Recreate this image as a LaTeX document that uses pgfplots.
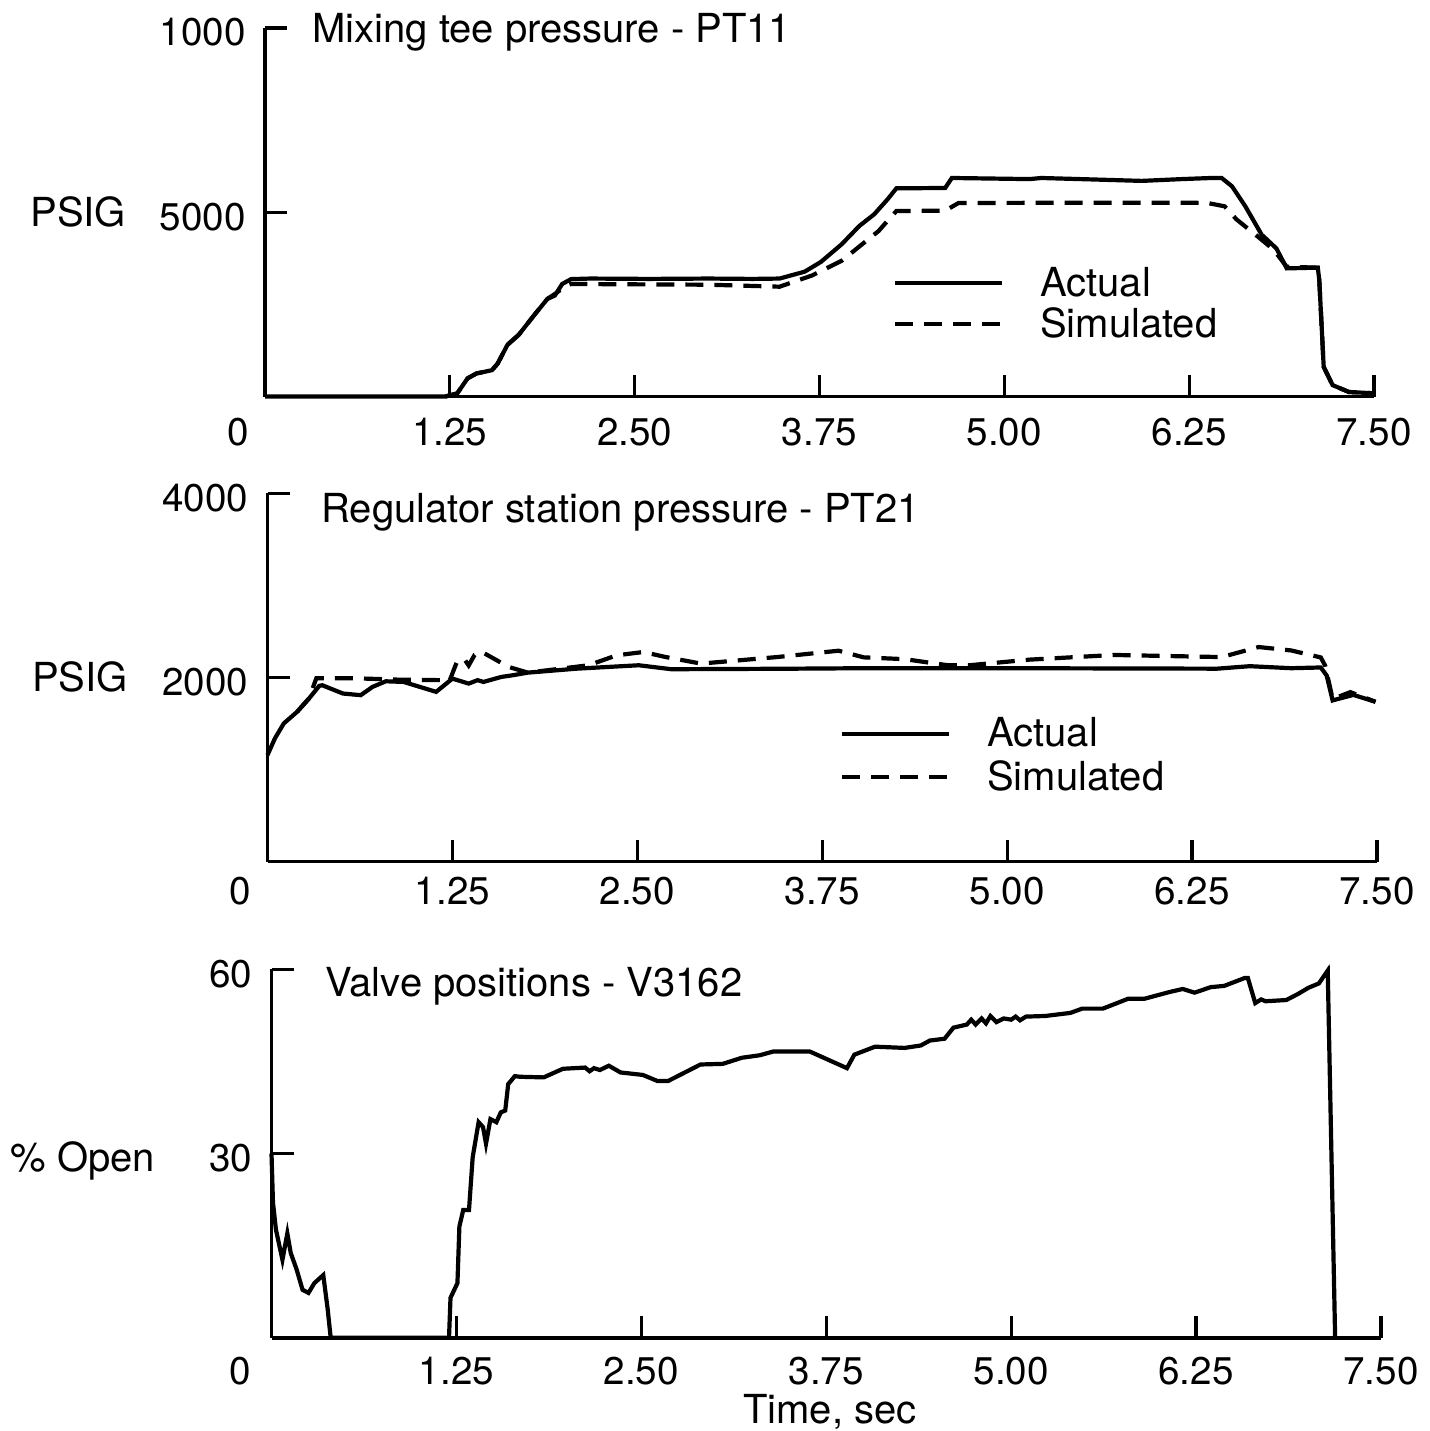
\documentclass[border=0pt]{standalone}
\usepackage{fontspec}
\setmainfont{TeX Gyre Heros}
\usepackage{pgfplots}
\pgfplotsset{compat=1.18}

\newcommand{\TF}{\fontsize{20}{24}\selectfont}
\newcommand{\KF}{\fontsize{19.3}{23}\selectfont}

\pgfplotsset{
  panel/.style={
    scale only axis,
    anchor=south west,
    axis x line*=bottom, axis y line*=left,
    axis line style={line width=1.9pt, -},
    every tick/.style={line width=1.6pt, black},
    major tick length=11pt,
    tick align=inside,
    xmin=0, xmax=7.5, ymin=0,
    xtick={1.25,2.5,3.75,5,6.25,7.5},
    xticklabels={1.25,2.50,3.75,5.00,6.25,7.50},
    extra x ticks={0},
    extra x tick labels={0},
    scaled ticks=false,
    ticklabel style={font=\KF},
    /pgf/number format/assume math mode=true,
    xticklabel style={anchor=base},
    yticklabel style={xshift=-6.2pt, yshift=-2.2pt},
    clip=false,
    legend style={draw=none, fill=none, font=\TF, inner sep=0pt, outer sep=0pt,
      nodes={inner sep=3pt}, column sep=15pt, anchor=north west},
    legend cell align=left,
    legend image code/.code={\draw[#1] (0pt,0pt) -- (53.5pt,0pt);},
  },
  act/.style={black, line width=2.1pt},
  sim/.style={black, line width=2.1pt, dash pattern=on 9pt off 5.5pt},
}

\begin{document}
\begin{tikzpicture}
\useasboundingbox (0pt,0pt) rectangle (715pt,-715.5pt);

% ---------------- top panel ----------------
\begin{axis}[panel, at={(132.5pt,-198.25pt)}, width=554.5pt, height=184.25pt,
  ymax=10000, ytick={5000,10000}, yticklabels={5000,1000},
  xticklabel style={yshift=-24.5pt},
  extra x tick style={major tick length=0pt, xticklabel style={xshift=-13.5pt}},
  legend style={at={(axis cs:4.247,3680)}, row sep=-1.8pt}]
\addplot[act] coordinates {
(0,0) (1.22,0) (1.30,84) (1.37,493) (1.43,625) (1.535,714) (1.573,891)
(1.64,1404) (1.716,1675) (1.82,2206) (1.91,2650) (1.96,2738) (2.01,3054)
(2.07,3186) (2.2,3201) (2.6,3191) (3.0,3201) (3.3,3191) (3.48,3201)
(3.65,3388) (3.76,3654) (3.90,4132) (4.02,4630) (4.12,4945) (4.21,5349)
(4.27,5649) (4.60,5659) (4.645,5930) (5.0,5910) (5.17,5900) (5.25,5930)
(5.6,5890) (5.93,5851) (6.2,5900) (6.40,5930) (6.47,5930) (6.54,5703)
(6.63,5161) (6.74,4393) (6.84,4019) (6.91,3477) (7.12,3497) (7.13,3162)
(7.16,803) (7.22,310) (7.33,123) (7.49,89)
};
\addlegendentry{Actual}
\addplot[sim] coordinates {
(1.22,0) (1.30,84) (1.37,493) (1.43,625) (1.535,714) (1.573,891)
(1.64,1404) (1.716,1675) (1.82,2206) (1.91,2650) (1.97,2807) (2.03,3004)
(2.07,3054) (2.5,3044) (3.0,3034) (3.48,2980) (3.70,3285) (3.90,3684)
(4.04,4137) (4.15,4492) (4.21,4767) (4.27,5033) (4.60,5043) (4.69,5250)
(5.5,5260) (6.37,5255) (6.49,5161) (6.57,4807) (6.71,4354) (6.82,3989)
(6.91,3521) (7.12,3497) (7.13,3162) (7.16,803) (7.22,310) (7.33,123) (7.49,89)
};
\addlegendentry{Simulated}
\end{axis}

% ---------------- middle panel ----------------
\begin{axis}[panel, at={(133.75pt,-430.75pt)}, width=554.75pt, height=184.1pt,
  ymax=4000, ytick={2000,4000}, yticklabels={2000,4000},
  xticklabel style={yshift=-21.5pt},
  extra x tick style={major tick length=0pt, xticklabel style={xshift=-13.75pt}},
  legend style={at={(axis cs:3.870,1627)}, row sep=-0.5pt}]
\addplot[act] coordinates {
(0,1157) (0.05,1337) (0.11,1500) (0.2,1626) (0.28,1770) (0.35,1908)
(0.37,1915) (0.51,1825) (0.63,1807) (0.71,1897) (0.80,1958) (0.92,1951)
(1.03,1897) (1.14,1843) (1.25,1987) (1.36,1933) (1.42,1970) (1.46,1951)
(1.58,2005) (1.66,2024) (1.76,2052) (2.09,2095) (2.51,2132) (2.73,2089)
(3.47,2094) (4.03,2100) (5.0,2100) (6.42,2095) (6.64,2122) (6.92,2100)
(7.12,2108) (7.16,2020) (7.20,1750) (7.34,1810) (7.49,1735)
};
\addlegendentry{Actual}
\addplot[sim] coordinates {
(0.2,1626) (0.28,1770) (0.33,1990) (0.6,1990) (0.9,1975) (1.19,1970)
(1.23,1960) (1.28,2168) (1.33,2200) (1.36,2130) (1.40,2244) (1.45,2276)
(1.55,2186) (1.63,2114) (1.76,2052) (2.17,2132) (2.36,2240) (2.54,2276)
(2.69,2222) (2.93,2150) (3.45,2222) (3.86,2290) (4.03,2218) (4.31,2198)
(4.59,2134) (4.73,2130) (5.15,2193) (5.72,2244) (6.45,2221) (6.70,2330)
(6.92,2293) (7.12,2217) (7.15,2127) (7.20,1766) (7.32,1840) (7.49,1735)
};
\addlegendentry{Simulated}
\end{axis}

% ---------------- bottom panel ----------------
\begin{axis}[panel, at={(135.75pt,-668.85pt)}, width=554.75pt, height=184.2pt,
  ymax=60, ytick={30,60}, yticklabels={30,60},
  xticklabel style={yshift=-23.5pt},
  extra x tick style={major tick length=0pt, xticklabel style={xshift=-15.75pt}}]
\addplot[act] coordinates {
(0,30) (0.01,22) (0.03,17.6) (0.074,12.7) (0.107,17.0) (0.13,13.8)
(0.17,11.1) (0.21,7.8) (0.25,7.3) (0.29,8.9) (0.35,10.2) (0.38,4.6)
(0.40,0) (1.20,0) (1.21,6.5) (1.257,8.9) (1.27,18.1) (1.296,20.8)
(1.335,20.8) (1.36,29.4) (1.40,35.1) (1.43,34.3) (1.45,31.6) (1.48,35.6)
(1.52,35.1) (1.55,36.7) (1.58,37.0) (1.60,41.3) (1.645,42.6) (1.68,42.5)
(1.84,42.4) (1.97,43.8) (2.12,44.0) (2.15,43.4) (2.18,43.9) (2.22,43.6)
(2.28,44.3) (2.36,43.2) (2.51,42.8) (2.61,41.8) (2.68,41.8) (2.90,44.5)
(3.05,44.6) (3.18,45.6) (3.30,46.0) (3.39,46.6) (3.64,46.6) (3.89,43.9)
(3.94,46.1) (4.08,47.4) (4.28,47.2) (4.39,47.6) (4.45,48.4) (4.55,48.7)
(4.61,50.5) (4.70,51.0) (4.73,51.8) (4.76,51.0) (4.80,52.0) (4.83,51.2)
(4.86,52.4) (4.90,51.4) (4.95,52.0) (5.00,51.8) (5.03,52.3) (5.06,51.7)
(5.10,52.3) (5.23,52.4) (5.40,52.9) (5.48,53.6) (5.62,53.6) (5.79,55.2)
(5.90,55.2) (6.07,56.3) (6.16,56.8) (6.24,56.2) (6.35,57.1) (6.44,57.3)
(6.58,58.6) (6.60,58.6) (6.65,54.5) (6.69,55.1) (6.72,54.8) (6.86,55.0)
(6.94,56.0) (7.01,57.0) (7.08,57.7) (7.14,59.8) (7.19,0)
};
\end{axis}

% ---------------- texts ----------------
\node[anchor=base west, inner sep=0pt, font=\TF] at (156pt,-21.35pt) {Mixing tee pressure - PT11};
\node[anchor=base west, inner sep=0pt, font=\TF] at (160.5pt,-261pt) {Regulator station pressure - PT21};
\node[anchor=base west, inner sep=0pt, font=\TF] at (162.5pt,-498.35pt) {Valve positions - V3162};
\node[anchor=base west, inner sep=0pt, font=\TF] at (15pt,-113.35pt) {PSIG};
\node[anchor=base west, inner sep=0pt, font=\TF] at (15.85pt,-345.85pt) {PSIG};
\node[anchor=base west, inner sep=0pt, font=\TF] at (5pt,-585.85pt) {\% Open};
\node[anchor=base, inner sep=0pt, font=\TF] at (415pt,-711.65pt) {Time, sec};
\end{tikzpicture}
\end{document}
